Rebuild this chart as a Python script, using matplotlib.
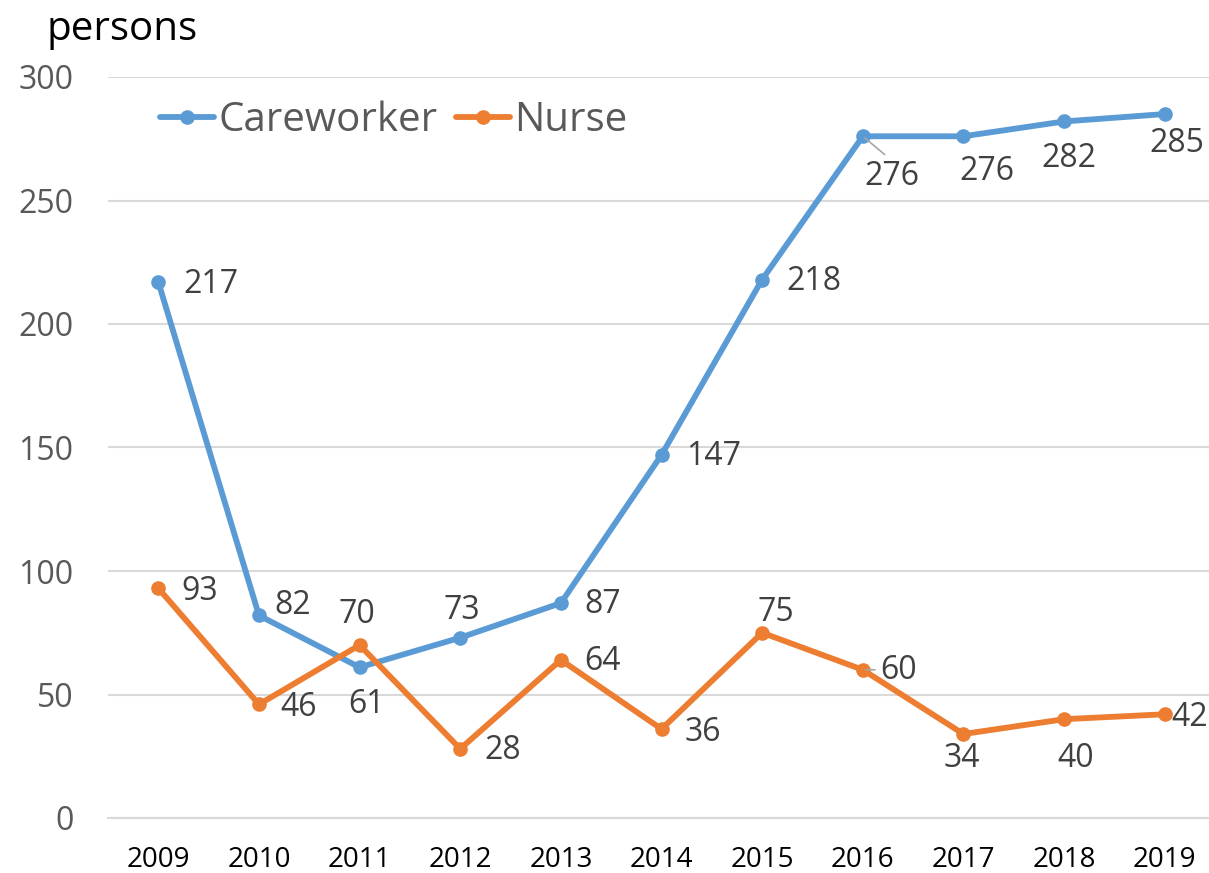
"""Careworker / Nurse counts per year, line chart with data labels."""

import matplotlib
matplotlib.use("Agg")
import matplotlib.pyplot as plt

plt.rcParams["font.family"] = ["Open Sans", "DejaVu Sans"]

years = ["2009", "2010", "2011", "2012", "2013", "2014",
         "2015", "2016", "2017", "2018", "2019"]
careworker = [217, 82, 61, 73, 87, 147, 218, 276, 276, 282, 285]
nurse = [93, 46, 70, 28, 64, 36, 75, 60, 34, 40, 42]

# label offsets in pixels (dx right, dy down) from each point
care_offsets = [(53, 2), (34, -10), (7, 37), (2, -27), (42, 1), (52, 2),
                (52, 2), (29, 40), (23, 35), (5, 37), (12, 29)]
nurse_offsets = [(41, 3), (40, 3), (-3, -31), (42, 2), (42, 2), (41, 3),
                 (14, -20), (36, 1), (-2, 24), (12, 39), (25, 3)]

BLUE = "#5B9BD5"
ORANGE = "#ED7D31"
LABEL = "#404040"
TICK = "#595959"
GRID = "#D9D9D9"

W, H = 1209, 873
fig = plt.figure(figsize=(W / 100, H / 100), dpi=100)
ax = fig.add_axes([108 / W, 1 - 818 / H, 1 - 108 / W, (818 - 77) / H])

x = list(range(len(years)))
ax.plot(x, careworker, color=BLUE, lw=4.2, marker="o", ms=9.5,
        label="Careworker", solid_capstyle="round", zorder=3)
ax.plot(x, nurse, color=ORANGE, lw=4.2, marker="o", ms=9.5,
        label="Nurse", solid_capstyle="round", zorder=3)


def add_labels(values, offsets):
    for i, (v, (dx, dy)) in enumerate(zip(values, offsets)):
        ax.annotate(str(v), (i, v), xytext=(dx, -dy), textcoords="offset pixels",
                    ha="center", va="center", fontsize=23, color=LABEL,
                    annotation_clip=False, zorder=4)


add_labels(careworker, care_offsets)
add_labels(nurse, nurse_offsets)

# small leader lines like the original
ax.annotate("", (7, careworker[7]), xytext=(24, -20), textcoords="offset pixels",
            arrowprops=dict(arrowstyle="-", color="#A6A6A6", lw=1.2))
ax.annotate("", (7, nurse[7]), xytext=(15, 0), textcoords="offset pixels",
            arrowprops=dict(arrowstyle="-", color="#A6A6A6", lw=1.2))

ax.set_xlim(-0.5, 10.44)
ax.set_ylim(0, 300)
ax.set_yticks(range(0, 301, 50))
ax.set_xticks(x)
ax.set_xticklabels(years)
ax.grid(axis="y", color=GRID, lw=1.5)
ax.set_axisbelow(True)
for side in ["left", "right", "top"]:
    ax.spines[side].set_visible(False)
ax.spines["bottom"].set_color(GRID)
ax.spines["bottom"].set_linewidth(1.5)
ax.tick_params(axis="y", length=0, pad=25, labelsize=23, labelcolor=TICK)
ax.tick_params(axis="x", length=0, pad=20, labelsize=20, labelcolor="black")

fig.text(46 / W, 1 - 30 / H, "persons", fontsize=29, color="black",
         ha="left", va="center")

fig.legend(loc="center left", bbox_to_anchor=(160 / W, 1 - 121 / H),
           ncol=2, frameon=False, fontsize=29, labelcolor=TICK,
           handlelength=1.35, handletextpad=0.1, columnspacing=0.45,
           borderaxespad=0, borderpad=0)

fig.savefig("out.png", dpi=100)
